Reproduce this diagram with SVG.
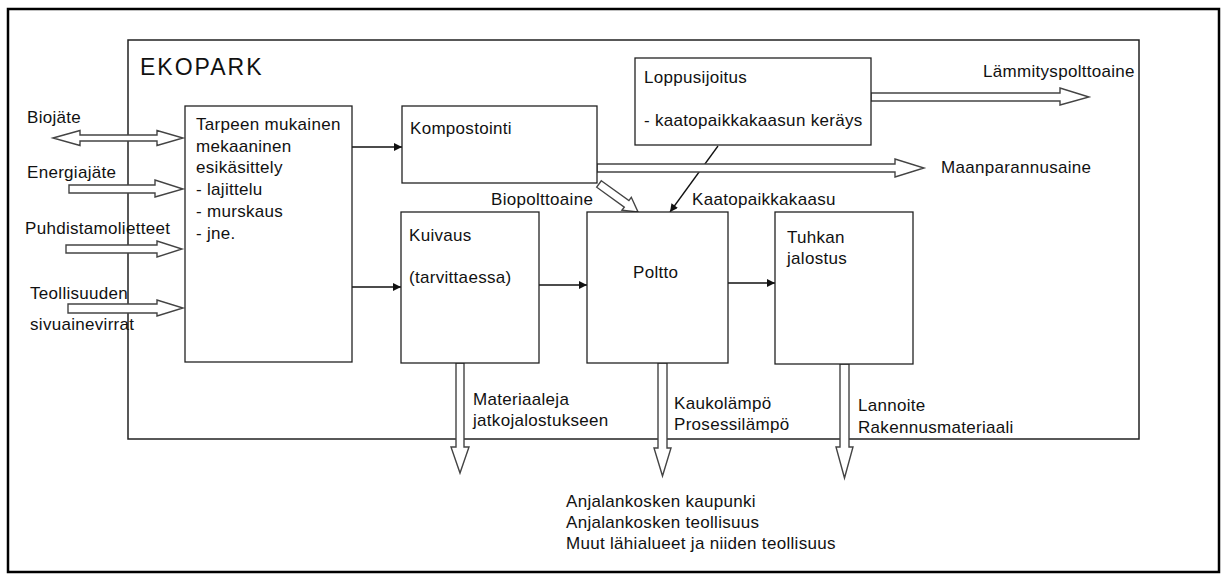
<svg xmlns="http://www.w3.org/2000/svg" width="1223" height="580" viewBox="0 0 1223 580">
<style>
text{font-family:"Liberation Sans",Arial,sans-serif;font-size:17px;fill:#111;letter-spacing:0.3px}
.box{fill:#fff;stroke:#222;stroke-width:1.3}
.frame{fill:none;stroke:#222;stroke-width:1.5}
.outer{fill:#fff;stroke:#000;stroke-width:2.5}
.line{fill:none;stroke:#111;stroke-width:1.3}
.block{fill:#fff;stroke:#444;stroke-width:1.4;stroke-linejoin:miter}
.title{font-size:23px;letter-spacing:2px}
</style>
<defs>
<marker id="ah" viewBox="0 0 10 10" refX="10" refY="5" markerWidth="9" markerHeight="8" markerUnits="userSpaceOnUse" orient="auto">
<path d="M0,0 L10,5 L0,10 Z" fill="#111"/>
</marker>
</defs>
<rect class="outer" x="8" y="9" width="1211" height="563"/>
<g id="ekopark">
<rect class="frame" x="128" y="40" width="1011" height="399"/>
<text class="title" x="140" y="75">EKOPARK</text>
</g>
<g id="connectors">
<line class="line" x1="352" y1="147" x2="402" y2="147" marker-end="url(#ah)"/>
<line class="line" x1="352" y1="287" x2="401" y2="287" marker-end="url(#ah)"/>
<line class="line" x1="539" y1="285" x2="587" y2="285" marker-end="url(#ah)"/>
<line class="line" x1="728" y1="283" x2="775" y2="283" marker-end="url(#ah)"/>
<line class="line" x1="718" y1="146" x2="670" y2="212" marker-end="url(#ah)"/>
<path class="block" d="M53,138 L80,130.5 L80,135 L157,135 L157,130.5 L183,138 L157,145.5 L157,141 L80,141 L80,145.5 Z"/>
<path class="block" d="M69,185 L155,185 L155,180 L183,189 L155,197 L155,193 L69,193 Z"/>
<path class="block" d="M66,245 L157,245 L157,241 L182,249 L157,257 L157,253 L66,253 Z"/>
<path class="block" d="M68,304 L157,304 L157,300 L183,308 L157,316 L157,313 L68,313 Z"/>
<path class="block" d="M871,93 L1060,93 L1060,88 L1089,97 L1060,105 L1060,101 L871,101 Z"/>
<path class="block" d="M597,164 L895,164 L895,159 L924,168 L895,177 L895,172 L597,172 Z"/>
<path class="block" d="M601.3,180.8 L628.9,200.6 L631.3,197.3 L638,212 L621.9,210.3 L624.3,207.1 L596.7,187.2 Z"/>
<path class="block" d="M456,363 L456,447 L451,447 L460,473 L469,447 L464,447 L464,363 Z"/>
<path class="block" d="M658,363 L658,448 L654,448 L662.5,476 L671,448 L667,448 L667,363 Z"/>
<path class="block" d="M840,364 L840,447 L836,447 L844.5,478 L853,447 L849,447 L849,364 Z"/>
</g>
<g id="esikasittely">
<rect class="box" x="185" y="106" width="167" height="256"/>
<text x="196" y="130">Tarpeen mukainen</text>
<text x="196" y="151.7">mekaaninen</text>
<text x="196" y="173.4">esikäsittely</text>
<text x="196" y="195.1">- lajittelu</text>
<text x="196" y="216.8">- murskaus</text>
<text x="196" y="238.5">- jne.</text>
</g>
<g id="kompostointi">
<rect class="box" x="402" y="106" width="195" height="77"/>
<text x="410" y="134">Kompostointi</text>
</g>
<g id="loppusijoitus">
<rect class="box" x="635" y="58" width="236" height="87"/>
<text x="644" y="83">Loppusijoitus</text>
<text x="644" y="126">- kaatopaikkakaasun keräys</text>
</g>
<g id="kuivaus">
<rect class="box" x="401" y="212" width="138" height="151"/>
<text x="409" y="241">Kuivaus</text>
<text x="409" y="283">(tarvittaessa)</text>
</g>
<g id="poltto">
<rect class="box" x="587" y="212" width="141" height="151"/>
<text x="633" y="278">Poltto</text>
</g>
<g id="tuhkan">
<rect class="box" x="775" y="212" width="138" height="152"/>
<text x="787" y="243">Tuhkan</text>
<text x="787" y="264">jalostus</text>
</g>
<g id="labels">
<text x="27" y="123">Biojäte</text>
<text x="27" y="178">Energiajäte</text>
<text x="25" y="234">Puhdistamolietteet</text>
<text x="30" y="299">Teollisuuden</text>
<text x="30" y="330">sivuainevirrat</text>
<text x="983" y="77">Lämmityspolttoaine</text>
<text x="941" y="173">Maanparannusaine</text>
<text x="491" y="205">Biopolttoaine</text>
<text x="692" y="205">Kaatopaikkakaasu</text>
<text x="473" y="405">Materiaaleja</text>
<text x="473" y="426">jatkojalostukseen</text>
<text x="674" y="409">Kaukolämpö</text>
<text x="674" y="430">Prosessilämpö</text>
<text x="858" y="411">Lannoite</text>
<text x="858" y="433">Rakennusmateriaali</text>
<text x="566" y="507">Anjalankosken kaupunki</text>
<text x="566" y="528">Anjalankosken teollisuus</text>
<text x="566" y="549">Muut lähialueet ja niiden teollisuus</text>
</g>
</svg>
